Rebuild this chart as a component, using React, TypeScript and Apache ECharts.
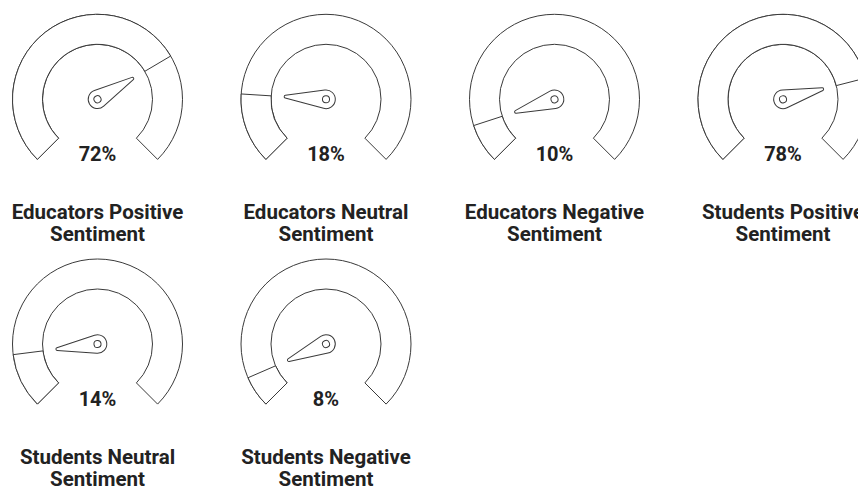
import React, { useEffect, useRef } from "react";
import * as echarts from "echarts";

const gaugeNames = [
  "Educators Positive\nSentiment",
  "Educators Neutral\nSentiment",
  "Educators Negative\nSentiment",
  "Students Positive\nSentiment",
  "Students Neutral\nSentiment",
  "Students Negative\nSentiment",
];
const gaugeValues = [72, 18, 10, 78, 14, 8];
const headingText = "Comparison gauges for perceived sentiment";

// layout (not data)
const COLS_X = [97.5, 326, 554.5, 783];
const ROWS_Y = [99.3, 344];
const PER_ROW = 4;
const R = 85;
const BAND = 30;
const LINE = "#3a3a3a";
const TEXT = "#222";

const POINTER_PATH =
  "path://M8.53 1.21 A1.5 1.5 0 0 1 11.47 1.21 L19.81 43.05 A10 10 0 1 1 0.19 43.05 Z " +
  "M13.8 45 A3.8 3.8 0 1 1 6.2 45 A3.8 3.8 0 1 1 13.8 45 Z";

export default function App() {
  const ref = useRef<HTMLDivElement>(null);
  useEffect(() => {
    if (!ref.current) return;
    const chart = echarts.init(ref.current, null, { renderer: "svg" });
    const series: any[] = [];
    gaugeValues.forEach((v, i) => {
      const cx = COLS_X[i % PER_ROW];
      const cy = ROWS_Y[Math.floor(i / PER_ROW)];
      const common = {
        type: "gauge",
        center: [cx, cy],
        radius: R,
        startAngle: 225,
        endAngle: -45,
        min: 0,
        max: 100,
        axisLine: { show: false },
        axisTick: { show: false },
        splitLine: { show: false },
        axisLabel: { show: false },
        progress: {
          show: true,
          width: BAND,
          itemStyle: { color: "#ffffff", borderColor: LINE, borderWidth: 1 },
        },
        silent: true,
      };
      series.push({
        ...common,
        z: 1,
        pointer: { show: false },
        anchor: { show: false },
        title: { show: false },
        detail: { show: false },
        data: [{ value: 100, name: "" }],
      });
      series.push({
        ...common,
        z: 2,
        pointer: {
          show: true,
          icon: POINTER_PATH,
          length: 51.2,
          width: 18.6,
          offsetCenter: [0, 9.3],
          keepAspect: false,
          itemStyle: { color: "#ffffff", borderColor: LINE, borderWidth: 1 },
        },
        anchor: { show: false },
        title: {
          show: true,
          offsetCenter: [0, 124],
          fontSize: 20.5,
          lineHeight: 22,
          fontWeight: "bold",
          fontFamily: "Roboto",
          color: TEXT,
        },
        detail: {
          show: true,
          valueAnimation: false,
          formatter: "{value}%",
          offsetCenter: [0, 55],
          fontSize: 20,
          fontWeight: "bold",
          fontFamily: "Roboto",
          color: TEXT,
        },
        data: [{ value: v, name: gaugeNames[i] }],
      });
    });
    chart.setOption({
      animation: false,
      graphic: [
        {
          type: "text",
          x: 8,
          y: -24.5,
          style: {
            text: headingText,
            font: "22px 'Liberation Serif', serif",
            padding: [0, 0, 20, 0],
            fill: "#000",
          },
        },
      ],
      series,
    });
    return () => chart.dispose();
  }, []);
  return (
    <div
      ref={ref}
      style={{ position: "absolute", left: 0, top: 0, width: 858, height: 487, background: "#fff" }}
    />
  );
}
